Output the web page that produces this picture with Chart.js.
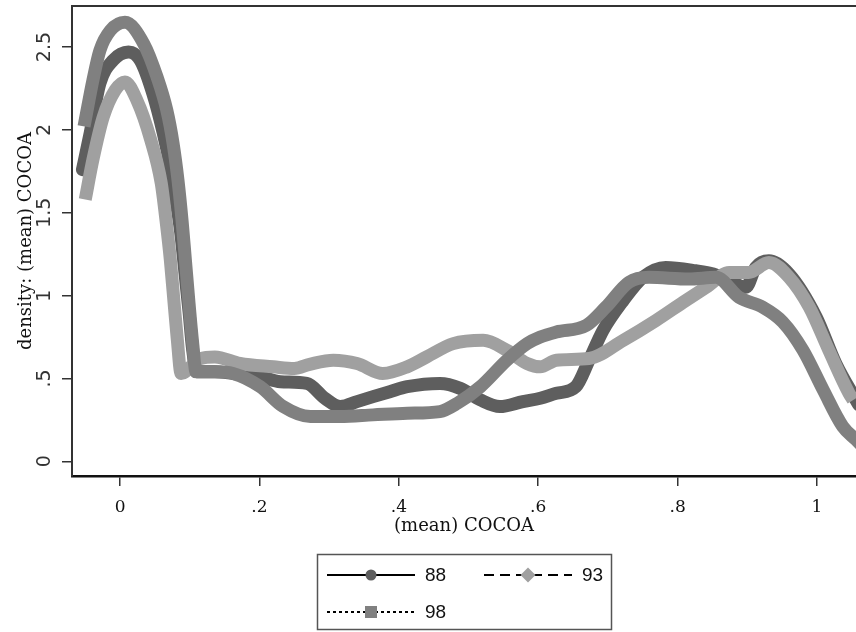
<!DOCTYPE html>
<html>
<head>
<meta charset="utf-8">
<script src="https://cdn.jsdelivr.net/npm/chart.js@4.4.1/dist/chart.umd.min.js"></script>
<style>
  html, body { margin: 0; padding: 0; background: #fff; }
  #wrap { width: 856px; height: 632px; }
</style>
</head>
<body>
<div id="wrap"><canvas id="kd"></canvas></div>
<script>
// kernel density of (mean) COCOA per year
const x88 = [-0.054, -0.043, -0.029, -0.010, 0.012, 0.029, 0.047, 0.062, 0.072, 0.080, 0.087, 0.093,
  0.099, 0.104, 0.110,
  0.136, 0.162, 0.201, 0.230, 0.268, 0.294, 0.316, 0.340, 0.363, 0.387, 0.412, 0.459, 0.488,
  0.517, 0.545, 0.578, 0.603, 0.626, 0.654, 0.673, 0.693, 0.722, 0.750, 0.783, 0.826, 0.851,
  0.874, 0.898, 0.912, 0.931, 0.960, 0.999, 1.027, 1.060];
const y88 = [1.76, 1.98, 2.28, 2.42, 2.47, 2.42, 2.22, 1.98, 1.78, 1.58, 1.38, 1.14,
  0.90, 0.68, 0.54,
  0.54, 0.53, 0.51, 0.48, 0.47, 0.38, 0.33, 0.36, 0.39, 0.42, 0.45, 0.47, 0.44,
  0.37, 0.33, 0.36, 0.38, 0.41, 0.45, 0.61, 0.79, 0.97, 1.11, 1.17, 1.15, 1.13,
  1.09, 1.05, 1.17, 1.21, 1.13, 0.87, 0.59, 0.34];

const x93 = [-0.050, -0.039, -0.024, -0.007, 0.007, 0.024, 0.044, 0.059, 0.066, 0.072, 0.077,
  0.082, 0.0875,
  0.115, 0.136, 0.172, 0.220, 0.250, 0.272, 0.306, 0.340, 0.377, 0.412, 0.440, 0.478, 0.521,
  0.555, 0.584, 0.603, 0.626, 0.673, 0.722, 0.769, 0.808, 0.841, 0.874, 0.902, 0.931, 0.960,
  0.989, 1.017, 1.046, 1.052];
const y93 = [1.58, 1.82, 2.08, 2.24, 2.29, 2.18, 1.94, 1.68, 1.45, 1.22, 0.98,
  0.74, 0.53,
  0.62, 0.63, 0.59, 0.57, 0.56, 0.585, 0.61, 0.59, 0.53, 0.57, 0.63, 0.71, 0.73,
  0.67, 0.59, 0.57, 0.61, 0.62, 0.73, 0.85, 0.96, 1.05, 1.14, 1.14, 1.20, 1.11,
  0.93, 0.67, 0.41, 0.37];

const x98 = [-0.050, -0.039, -0.029, -0.014, 0.007, 0.034, 0.053, 0.067, 0.076, 0.083, 0.089,
  0.094, 0.099, 0.104, 0.109,
  0.136, 0.162, 0.201, 0.234, 0.273, 0.316, 0.363, 0.412, 0.459, 0.484,
  0.517, 0.555, 0.584, 0.603, 0.626, 0.669, 0.697, 0.730, 0.759, 0.816, 0.855, 0.888, 0.922,
  0.951, 0.980, 1.009, 1.037, 1.056];
const y98 = [2.06, 2.30, 2.48, 2.60, 2.65, 2.52, 2.32, 2.12, 1.92, 1.70, 1.45,
  1.20, 0.95, 0.72, 0.54,
  0.54, 0.53, 0.45, 0.33, 0.27, 0.27, 0.28, 0.29, 0.30, 0.35,
  0.45, 0.61, 0.71, 0.75, 0.78, 0.82, 0.93, 1.08, 1.11, 1.10, 1.11, 0.99, 0.93,
  0.84, 0.67, 0.43, 0.21, 0.13];

const years = ["88", "93", "98"];
const xTicks = [0, 0.2, 0.4, 0.6, 0.8, 1];
const xTickLabels = ["0", ".2", ".4", ".6", ".8", "1"];
const yTicks = [0, 0.5, 1, 1.5, 2, 2.5];
const yTickLabels = ["0", ".5", "1", "1.5", "2", "2.5"];

function pairs(xs, ys) {
  return xs.map((x, i) => ({ x: x, y: ys[i] }));
}

// top edge of the plot region
const plotFrame = {
  id: "plotFrame",
  afterDraw(chart) {
    const { ctx, chartArea } = chart;
    ctx.save();
    ctx.strokeStyle = "#333";
    ctx.lineWidth = 2;
    ctx.beginPath();
    ctx.moveTo(chartArea.left, chartArea.top);
    ctx.lineTo(chartArea.right, chartArea.top);
    ctx.stroke();
    ctx.restore();
  },
};

// stata-like legend box: line sample + marker + label, two columns
const boxLegend = {
  id: "boxLegend",
  afterDraw(chart) {
    const ctx = chart.ctx;
    const area = chart.chartArea;
    const w = 294, h = 75;
    const bx = Math.round((area.left + area.right) / 2 - w / 2);
    const by = 554;
    ctx.save();
    ctx.strokeStyle = "#555";
    ctx.lineWidth = 1.5;
    ctx.strokeRect(bx + 0.5, by + 0.5, w, h);

    chart.data.datasets.forEach((ds, i) => {
      const col = i % 2, row = Math.floor(i / 2);
      const x0 = bx + 10 + col * 157;
      const y0 = by + 21 + row * 37;
      const len = 88;
      ctx.strokeStyle = "#000";
      ctx.lineWidth = 2;
      ctx.setLineDash(ds.legendDash);
      ctx.beginPath();
      ctx.moveTo(x0, y0);
      ctx.lineTo(x0 + len, y0);
      ctx.stroke();
      ctx.setLineDash([]);

      const mx = x0 + len / 2;
      ctx.fillStyle = ds.borderColor;
      ctx.beginPath();
      if (ds.pointStyle === "circle") {
        ctx.arc(mx, y0, 5.5, 0, Math.PI * 2);
      } else if (ds.pointStyle === "rectRot") {
        ctx.moveTo(mx, y0 - 7.5);
        ctx.lineTo(mx + 7.5, y0);
        ctx.lineTo(mx, y0 + 7.5);
        ctx.lineTo(mx - 7.5, y0);
        ctx.closePath();
      } else {
        ctx.rect(mx - 6, y0 - 6, 12, 12);
      }
      ctx.fill();

      ctx.fillStyle = "#111";
      ctx.font = "19px 'Liberation Sans'";
      ctx.textBaseline = "middle";
      ctx.textAlign = "left";
      ctx.fillText(ds.label, x0 + len + 10, y0 + 1);
    });
    ctx.restore();
  },
};

const common = {
  borderWidth: 13,
  pointRadius: 0,
  fill: false,
  cubicInterpolationMode: "monotone",
  borderJoinStyle: "round",
};

const datasets = [
  Object.assign({}, common, {
    label: years[0], data: pairs(x88, y88), borderColor: "#5e5e5e",
    order: 3, pointStyle: "circle", legendDash: [], borderCapStyle: "round",
  }),
  Object.assign({}, common, {
    label: years[1], data: pairs(x93, y93), borderColor: "#a0a0a0",
    order: 2, pointStyle: "rectRot", legendDash: [10, 6], borderCapStyle: "butt",
  }),
  Object.assign({}, common, {
    label: years[2], data: pairs(x98, y98), borderColor: "#808080",
    order: 1, pointStyle: "rect", legendDash: [3, 3], borderCapStyle: "square",
  }),
];

const ctx = document.getElementById("kd").getContext("2d");
const kdChart = new Chart(ctx, {
  type: "line",
  data: { datasets: datasets },
  plugins: [plotFrame, boxLegend],
  options: {
    responsive: true,
    maintainAspectRatio: false,
    animation: false,
    events: [],
    layout: { padding: { top: 6, left: 0, right: 0, bottom: 95 } },
    plugins: {
      legend: { display: false },
      tooltip: { enabled: false },
    },
    scales: {
      x: {
        type: "linear",
        min: -0.069,
        max: 1.056,
        afterBuildTicks: (s) => { s.ticks = xTicks.map((v) => ({ value: v })); },
        afterFit: (s) => { s.height = 61; s.paddingLeft = 0; s.paddingRight = 0; },
        ticks: {
          callback: (v, i) => xTickLabels[i],
          color: "#111",
          font: { family: "'DejaVu Serif'", size: 17 },
          padding: 11,
          maxRotation: 0,
        },
        grid: { drawOnChartArea: false, tickLength: 10, color: "#333", lineWidth: 1.5 },
        border: { display: true, color: "#111", width: 2.5 },
        title: {
          display: true,
          text: "(mean) COCOA",
          color: "#111",
          font: { family: "'DejaVu Serif'", size: 18 },
          padding: { top: 0, bottom: 0 },
        },
      },
      y: {
        type: "linear",
        min: -0.089,
        max: 2.748,
        afterBuildTicks: (s) => { s.ticks = yTicks.map((v) => ({ value: v })); },
        afterFit: (s) => { s.width = 72; s.paddingTop = 0; s.paddingBottom = 0; },
        ticks: {
          callback: (v, i) => yTickLabels[i],
          color: "#333",
          font: { family: "'DejaVu Sans'", size: 19 },
          minRotation: 90,
          maxRotation: 90,
          crossAlign: "center",
          padding: 2,
        },
        grid: { drawOnChartArea: false, tickLength: 10, color: "#333", lineWidth: 1.5 },
        border: { display: true, color: "#333", width: 2 },
        title: {
          display: true,
          text: "density: (mean) COCOA",
          color: "#111",
          font: { family: "'DejaVu Serif'", size: 18 },
          padding: { top: 16, bottom: 0 },
        },
      },
    },
  },
});
</script>
</body>
</html>
